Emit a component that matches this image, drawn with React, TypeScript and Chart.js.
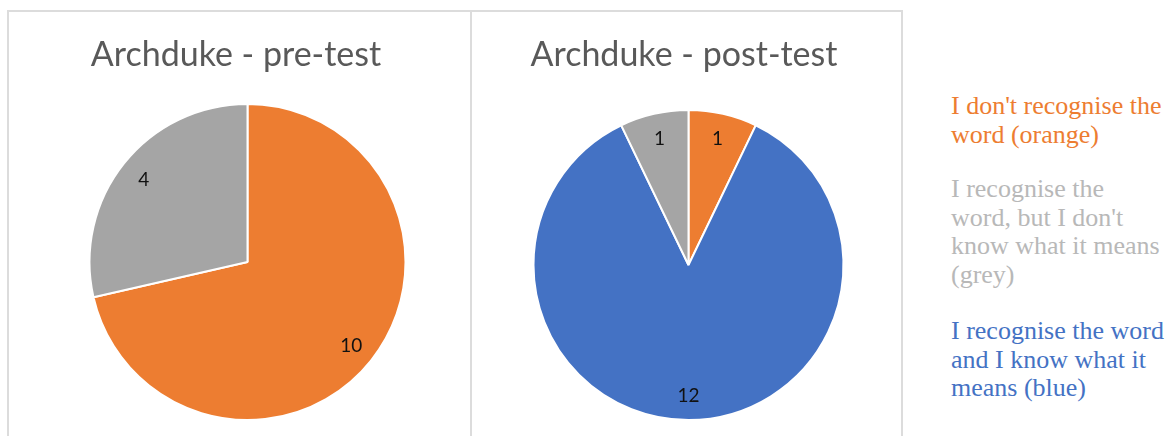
import React, { useEffect, useRef } from "react";
import { Chart, registerables } from "chart.js";

Chart.register(...registerables);

const categories = [
  "I don't recognise the word",
  "I recognise the word and I know what it means",
  "I recognise the word, but I don't know what it means",
];
const sliceColors = ["#ED7D31", "#4472C4", "#A5A5A5"];
const preTitle = "Archduke - pre-test";
const postTitle = "Archduke - post-test";
const preValues = [10, 0, 4];
const postValues = [1, 12, 1];

const orangeLines = ["I don't recognise the", "word (orange)"];
const greyLines = ["I recognise the", "word, but I don't", "know what it means", "(grey)"];
const blueLines = ["I recognise the word", "and I know what it", "means (blue)"];

const titlePlugin = {
  id: "customTitle",
  afterDraw(chart: any, _args: any, opts: any) {
    const ctx = chart.ctx;
    ctx.save();
    ctx.font = "34px Lato";
    ctx.fillStyle = "#595959";
    ctx.textAlign = "center";
    ctx.textBaseline = "alphabetic";
    ctx.fillText(opts.text, opts.x, opts.y);
    ctx.restore();
  },
};

const labelPlugin = {
  id: "sliceLabels",
  afterDatasetsDraw(chart: any) {
    const ctx = chart.ctx;
    const meta = chart.getDatasetMeta(0);
    const data = chart.data.datasets[0].data;
    ctx.save();
    ctx.font = "19px Lato";
    ctx.fillStyle = "#111111";
    ctx.textAlign = "center";
    ctx.textBaseline = "middle";
    meta.data.forEach((arc: any, i: number) => {
      const v = data[i];
      if (!v) return;
      const { x, y, startAngle, endAngle, outerRadius } = arc.getProps(
        ["x", "y", "startAngle", "endAngle", "outerRadius"],
        true
      );
      const mid = (startAngle + endAngle) / 2;
      const d = outerRadius * 0.84;
      ctx.fillText(String(v), x + Math.cos(mid) * d, y + Math.sin(mid) * d + 1);
    });
    ctx.restore();
  },
};

function PieBox(props: {
  values: number[];
  title: string;
  left: number;
  width: number;
  radius: number;
  titleX: number;
  padding: { left: number; right: number; top: number; bottom: number };
}) {
  const ref = useRef<HTMLCanvasElement | null>(null);
  useEffect(() => {
    if (!ref.current) return;
    const chart = new Chart(ref.current, {
      type: "pie",
      data: {
        labels: categories,
        datasets: [
          {
            data: props.values,
            backgroundColor: sliceColors,
            borderColor: "#ffffff",
            borderWidth: 2,
          },
        ],
      },
      options: {
        animation: false,
        responsive: false,
        radius: props.radius,
        layout: { padding: props.padding },
        plugins: {
          legend: { display: false },
          tooltip: { enabled: false },
          title: { display: false },
          customTitle: { text: props.title, x: props.titleX, y: 54 },
        } as any,
      },
      plugins: [titlePlugin, labelPlugin],
    });
    return () => chart.destroy();
  }, []);
  return (
    <canvas
      ref={ref}
      width={props.width}
      height={424}
      style={{ position: "absolute", left: props.left, top: 12, width: props.width, height: 424 }}
    />
  );
}

const lineStyle: React.CSSProperties = { whiteSpace: "nowrap" };

export default function App() {
  const textBase: React.CSSProperties = {
    position: "absolute",
    left: 951,
    fontFamily: "'Liberation Serif', serif",
    fontSize: 26,
    lineHeight: "28.7px",
  };
  return (
    <div style={{ position: "absolute", left: 0, top: 0, width: 1175, height: 436, overflow: "hidden", background: "#fff" }}>
      <div style={{ position: "absolute", left: 7, top: 10, width: 465, height: 460, border: "2px solid #dcdcdc", boxSizing: "border-box" }} />
      <div style={{ position: "absolute", left: 470, top: 10, width: 433, height: 460, border: "2px solid #dcdcdc", boxSizing: "border-box" }} />
      <PieBox values={preValues} title={preTitle} left={9} width={460} radius={158} titleX={227} padding={{ left: 17, right: 0, top: 76, bottom: 0 }} />
      <PieBox values={postValues} title={postTitle} left={472} width={429} radius={155} titleX={212} padding={{ left: 4, right: 0, top: 82, bottom: 0 }} />
      <div style={{ ...textBase, top: 92, color: "#ED7D31" }}>
        {orangeLines.map((l, i) => (
          <div key={i} style={lineStyle}>{l}</div>
        ))}
      </div>
      <div style={{ ...textBase, top: 175, color: "#B8B8B8" }}>
        {greyLines.map((l, i) => (
          <div key={i} style={lineStyle}>{l}</div>
        ))}
      </div>
      <div style={{ ...textBase, top: 317, color: "#4472C4" }}>
        {blueLines.map((l, i) => (
          <div key={i} style={lineStyle}>{l}</div>
        ))}
      </div>
    </div>
  );
}
